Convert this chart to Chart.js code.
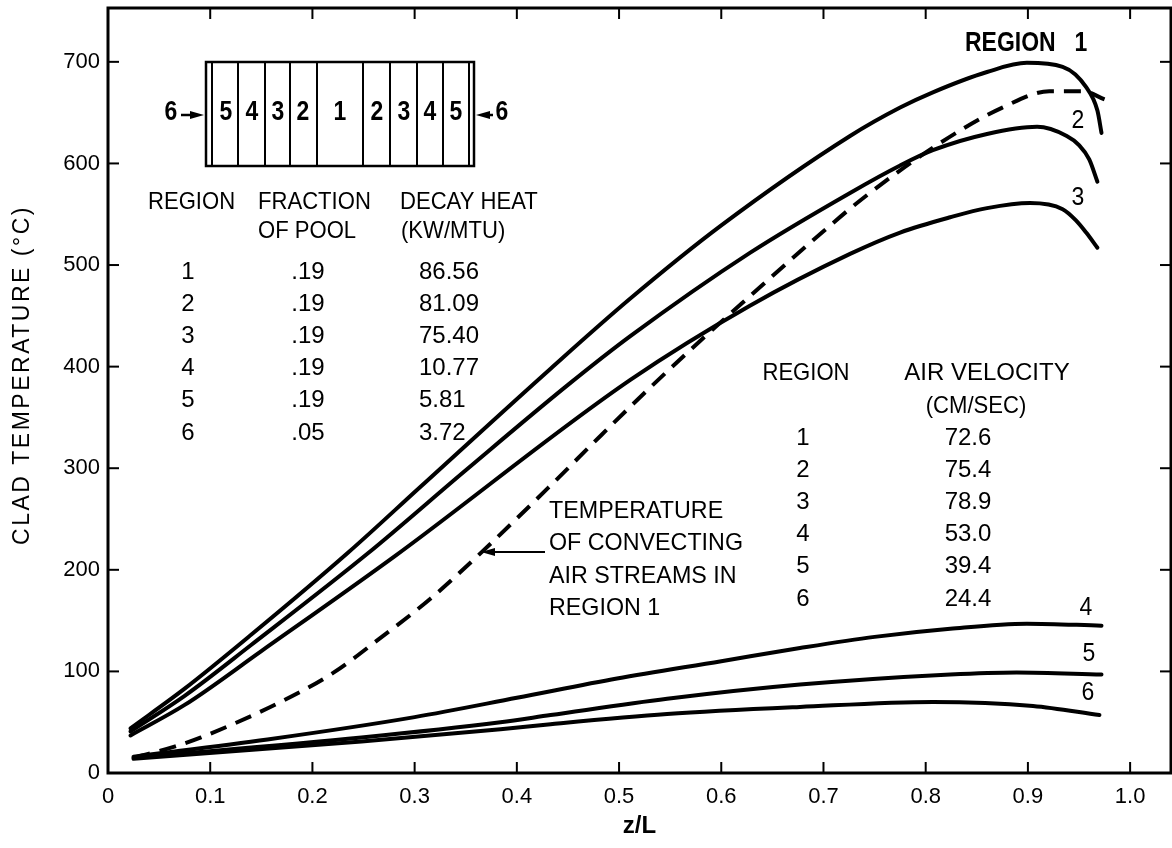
<!DOCTYPE html>
<html>
<head>
<meta charset="utf-8">
<script src="https://cdn.jsdelivr.net/npm/chart.js@4.4.1/dist/chart.umd.min.js"></script>
<style>
  html, body { margin: 0; padding: 0; background: #fff; }
  #wrap { width: 1172px; height: 848px; }
</style>
</head>
<body>
<div id="wrap"><canvas id="chart" width="1172" height="848"></canvas></div>
<script>
// clad temperature (deg C) against z/L
const region1Z = [0.022, 0.075, 0.14, 0.235, 0.306, 0.433, 0.511, 0.6, 0.726, 0.775, 0.807, 0.86, 0.899, 0.934, 0.957, 0.968, 0.972];
const region1T = [44, 83, 136, 217, 282, 398, 467, 539, 627, 655, 670, 690, 699, 695, 675, 652, 630];
const region2Z = [0.022, 0.075, 0.14, 0.254, 0.35, 0.45, 0.511, 0.628, 0.726, 0.775, 0.807, 0.86, 0.909, 0.938, 0.95, 0.96, 0.968];
const region2T = [41, 76, 126, 216, 298, 382, 430, 512, 571, 598, 613, 629, 636, 627, 618, 604, 582];
const region3Z = [0.022, 0.075, 0.15, 0.28, 0.511, 0.628, 0.726, 0.775, 0.824, 0.86, 0.902, 0.934, 0.947, 0.957, 0.968];
const region3T = [37, 67, 120, 213, 387, 460, 511, 532, 547, 556, 561, 555, 544, 532, 517];
const region4Z = [0.025, 0.156, 0.30, 0.40, 0.498, 0.60, 0.677, 0.75, 0.824, 0.899, 0.972];
const region4T = [16, 33, 55, 74, 93, 110, 123, 134, 142, 147, 145];
const region5Z = [0.025, 0.248, 0.384, 0.433, 0.547, 0.677, 0.824, 0.889, 0.972];
const region5T = [15, 35, 50, 57, 73, 87, 97, 99, 97];
const region6Z = [0.025, 0.248, 0.384, 0.433, 0.547, 0.677, 0.807, 0.905, 0.970];
const region6T = [14, 31, 43, 48, 58, 65, 70, 66, 57];
// air stream temperature in region 1 (dashed)
const airZ = [0.025, 0.065, 0.091, 0.169, 0.221, 0.264, 0.316, 0.362, 0.433, 0.482, 0.531, 0.579, 0.612, 0.694, 0.739, 0.814, 0.875, 0.921, 0.954, 0.975];
const airT = [15, 26, 35, 70, 99, 131, 172, 214, 283, 332, 380, 425, 455, 528, 566, 620, 655, 671, 671, 663];

const xTicks = [0, 0.1, 0.2, 0.3, 0.4, 0.5, 0.6, 0.7, 0.8, 0.9, 1.0];
const xTickLabels = ['0', '0.1', '0.2', '0.3', '0.4', '0.5', '0.6', '0.7', '0.8', '0.9', '1.0'];
const yTicks = [0, 100, 200, 300, 400, 500, 600, 700];

// the two tables printed on the figure
const poolRegions = ['1', '2', '3', '4', '5', '6'];
const poolFraction = ['.19', '.19', '.19', '.19', '.19', '.05'];
const decayHeat = ['86.56', '81.09', '75.40', '10.77', '5.81', '3.72'];
const airVelocity = ['72.6', '75.4', '78.9', '53.0', '39.4', '24.4'];

const FONT = '"Liberation Sans", Arial, sans-serif';

function pairs(zs, ts) {
    return zs.map((z, i) => ({ x: z, y: ts[i] }));
}

function curve(zs, ts, dashed) {
    return {
        data: pairs(zs, ts),
        borderColor: '#000',
        borderWidth: 4,
        borderDash: dashed ? [17, 10] : [],
        borderCapStyle: dashed ? 'butt' : 'round',
        borderJoinStyle: 'round',
        pointRadius: 0,
        cubicInterpolationMode: 'monotone',
        fill: false
    };
}

// draws text, squeezed a bit sideways like the condensed lettering of the figure
function label(ctx, s, x, y, size, opts) {
    const o = opts || {};
    ctx.save();
    ctx.font = (o.bold ? 'bold ' : '') + size + 'px ' + FONT;
    ctx.textAlign = o.align || 'left';
    ctx.textBaseline = 'middle';
    ctx.translate(x, y);
    ctx.scale(o.sx || 0.92, 1);
    ctx.fillText(s, 0, 0);
    ctx.restore();
}

function seg(ctx, x1, y1, x2, y2) {
    ctx.beginPath();
    ctx.moveTo(x1, y1);
    ctx.lineTo(x2, y2);
    ctx.stroke();
}

function arrowHead(ctx, tipX, tipY, dir) {
    ctx.beginPath();
    ctx.moveTo(tipX, tipY);
    ctx.lineTo(tipX - dir * 14, tipY - 4);
    ctx.lineTo(tipX - dir * 14, tipY + 4);
    ctx.closePath();
    ctx.fill();
}

const decor = {
    id: 'decor',
    afterDraw(chart) {
        const { ctx, chartArea: a, scales: { x, y } } = chart;
        ctx.save();
        ctx.strokeStyle = '#000';
        ctx.fillStyle = '#000';

        // frame
        ctx.lineWidth = 3;
        ctx.strokeRect(a.left, a.top, a.right - a.left, a.bottom - a.top);

        // inward tick marks on all four sides
        ctx.lineWidth = 2;
        xTicks.forEach(v => {
            if (v === 0) return;
            const px = x.getPixelForValue(v);
            seg(ctx, px, a.bottom, px, a.bottom - 11);
            seg(ctx, px, a.top, px, a.top + 11);
        });
        yTicks.forEach(v => {
            if (v === 0) return;
            const py = y.getPixelForValue(v);
            seg(ctx, a.left, py, a.left + 11, py);
            seg(ctx, a.right, py, a.right - 11, py);
        });

        // y axis title, letter-spaced like the original
        ctx.save();
        ctx.translate(23, 375);
        ctx.rotate(-Math.PI / 2);
        ctx.font = '23px ' + FONT;
        ctx.letterSpacing = '2.5px';
        ctx.textAlign = 'center';
        ctx.textBaseline = 'middle';
        ctx.fillText('CLAD TEMPERATURE (°C)', 0, 0);
        ctx.restore();

        // sketch of the pool cross-section
        ctx.lineWidth = 2.5;
        ctx.strokeRect(206, 62, 268, 104);
        ctx.lineWidth = 2;
        [212, 238, 265, 290, 317, 363, 390, 417, 443, 469].forEach(px => seg(ctx, px, 62, px, 166));
        const cellNames = ['5', '4', '3', '2', '1', '2', '3', '4', '5'];
        const cellX = [226, 252, 278, 303, 340, 377, 404, 430, 456];
        cellNames.forEach((s, i) => label(ctx, s, cellX[i], 113, 27, { bold: true, align: 'center', sx: 0.85 }));
        label(ctx, '6', 171, 113, 27, { bold: true, align: 'center', sx: 0.85 });
        label(ctx, '6', 502, 113, 27, { bold: true, align: 'center', sx: 0.85 });
        ctx.lineWidth = 2.5;
        seg(ctx, 181, 115, 195, 115);
        arrowHead(ctx, 204, 115, 1);
        seg(ctx, 493, 115, 485, 115);
        arrowHead(ctx, 476, 115, -1);

        // decay heat table
        label(ctx, 'REGION', 148, 202, 24);
        label(ctx, 'FRACTION', 258, 202, 24);
        label(ctx, 'OF POOL', 258, 231, 24);
        label(ctx, 'DECAY HEAT', 400, 202, 24);
        label(ctx, '(KW/MTU)', 401, 231, 24);
        poolRegions.forEach((s, i) => {
            const py = 272 + 32.2 * i;
            label(ctx, s, 188, py, 24, { align: 'center', sx: 1 });
            label(ctx, poolFraction[i], 308, py, 24, { align: 'center', sx: 1 });
            label(ctx, decayHeat[i], 419, py, 24, { sx: 1 });
        });

        // air velocity table
        label(ctx, 'REGION', 806, 373, 24, { align: 'center' });
        label(ctx, 'AIR VELOCITY', 987, 373, 24, { align: 'center', sx: 1 });
        label(ctx, '(CM/SEC)', 976, 406, 24, { align: 'center' });
        poolRegions.forEach((s, i) => {
            const py = 438 + 32.2 * i;
            label(ctx, s, 803, py, 24, { align: 'center', sx: 1 });
            label(ctx, airVelocity[i], 968, py, 24, { align: 'center', sx: 1 });
        });

        // note on the dashed curve
        ['TEMPERATURE', 'OF CONVECTING', 'AIR STREAMS IN', 'REGION 1'].forEach((s, i) => {
            label(ctx, s, 549, 511 + 32.5 * i, 24, { sx: 0.97 });
        });
        ctx.lineWidth = 2;
        seg(ctx, 545, 552, 495, 552);
        arrowHead(ctx, 481, 552, -1);

        // curve names
        label(ctx, 'REGION', 965, 43, 28, { bold: true, sx: 0.82 });
        label(ctx, '1', 1081, 43, 28, { bold: true, align: 'center', sx: 0.82 });
        label(ctx, '2', 1078, 121, 25, { align: 'center' });
        label(ctx, '3', 1078, 198, 25, { align: 'center' });
        label(ctx, '4', 1086, 608, 25, { align: 'center' });
        label(ctx, '5', 1089, 654, 25, { align: 'center' });
        label(ctx, '6', 1088, 693, 25, { align: 'center' });

        ctx.restore();
    }
};

new Chart(document.getElementById('chart'), {
    type: 'line',
    data: {
        datasets: [
            curve(region1Z, region1T, false),
            curve(region2Z, region2T, false),
            curve(region3Z, region3T, false),
            curve(region4Z, region4T, false),
            curve(region5Z, region5T, false),
            curve(region6Z, region6T, false),
            curve(airZ, airT, true)
        ]
    },
    options: {
        responsive: false,
        animation: false,
        layout: { padding: { top: 8, right: 1, left: 0, bottom: 0 } },
        plugins: {
            legend: { display: false },
            tooltip: { enabled: false }
        },
        scales: {
            x: {
                type: 'linear',
                min: 0,
                max: 1.04,
                afterFit: s => { s.height = 75; s.paddingLeft = 0; s.paddingRight = 0; },
                afterBuildTicks: s => { s.ticks = xTicks.map(v => ({ value: v })); },
                grid: { display: false, drawTicks: false },
                border: { display: false },
                ticks: {
                    autoSkip: false,
                    maxRotation: 0,
                    padding: 11,
                    color: '#000',
                    font: { family: FONT, size: 22 },
                    callback: (v, i) => xTickLabels[i]
                },
                title: {
                    display: true,
                    text: 'z/L',
                    color: '#000',
                    font: { family: FONT, size: 24, weight: 'bold' },
                    padding: { bottom: 7 }
                }
            },
            y: {
                min: 0,
                max: 753,
                afterFit: s => { s.width = 108; s.paddingTop = 0; s.paddingBottom = 0; },
                afterBuildTicks: s => { s.ticks = yTicks.map(v => ({ value: v })); },
                grid: { display: false, drawTicks: false },
                border: { display: false },
                ticks: {
                    padding: 8,
                    color: '#000',
                    font: { family: FONT, size: 22 }
                }
            }
        }
    },
    plugins: [decor]
});
</script>
</body>
</html>
